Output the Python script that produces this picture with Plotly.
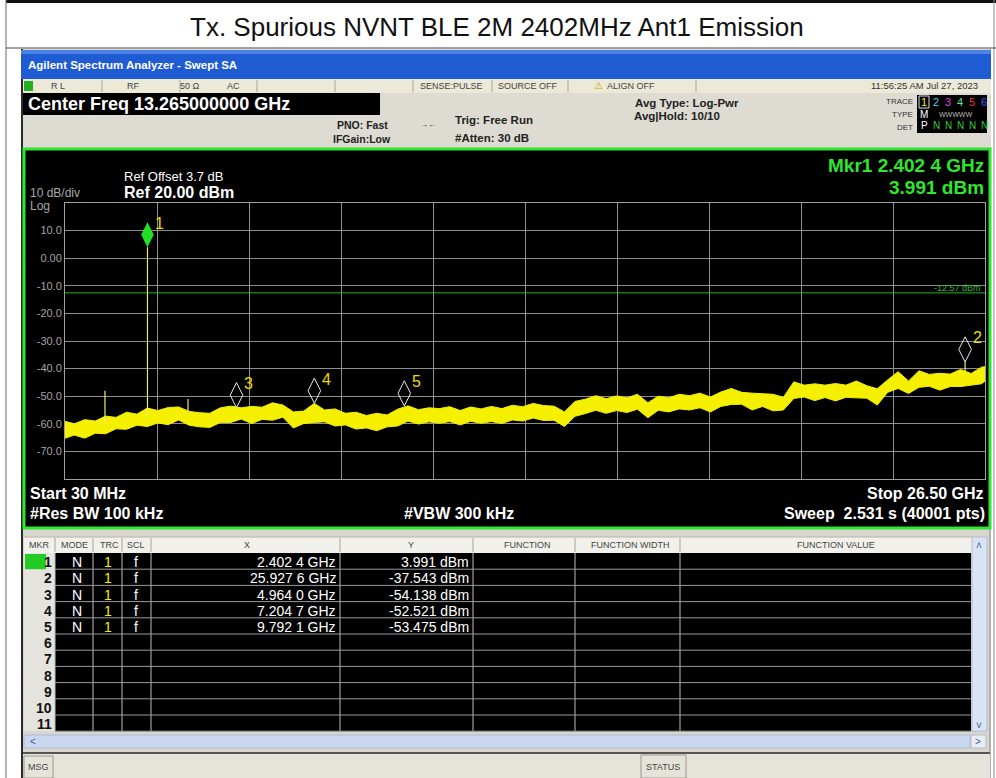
import plotly.graph_objects as go

# ---------------- data ----------------
title_text = "Tx. Spurious NVNT BLE 2M 2402MHz Ant1 Emission"
start_ghz = 0.03
stop_ghz = 26.5
ref_level_dbm = 20.0
scale_db_div = 10.0
limit_dbm = -12.57

freq_ghz = [0.03, 0.3, 0.6, 0.9, 1.2, 1.5, 1.8, 2.1, 2.4, 2.7,
            3.0, 3.3, 3.6, 3.9, 4.2, 4.5, 4.8, 5.1, 5.4, 5.7,
            6.0, 6.3, 6.6, 6.9, 7.2, 7.5, 7.8, 8.1, 8.4, 8.7,
            9.0, 9.3, 9.6, 9.9, 10.2, 10.5, 10.8, 11.1, 11.4, 11.7,
            12.0, 12.3, 12.6, 12.9, 13.2, 13.5, 13.8, 14.1, 14.4, 14.7,
            15.0, 15.3, 15.6, 15.9, 16.2, 16.5, 16.8, 17.1, 17.4, 17.7,
            18.0, 18.3, 18.6, 18.9, 19.2, 19.5, 19.8, 20.1, 20.4, 20.7,
            21.0, 21.3, 21.6, 21.9, 22.2, 22.5, 22.8, 23.1, 23.4, 23.7,
            24.0, 24.3, 24.6, 24.9, 25.2, 25.5, 25.8, 26.1, 26.4, 26.5]

trace_upper_dbm = [-59.1, -60.0, -58.5, -59.0, -57.2, -57.7, -55.8, -56.5, -54.3, -55.2,
                   -54.1, -53.9, -55.5, -56.0, -56.2, -54.2, -53.6, -54.2, -53.7, -54.0,
                   -52.4, -53.2, -55.7, -55.4, -52.6, -55.0, -54.6, -56.2, -55.8, -57.0,
                   -56.2, -56.8, -54.7, -53.5, -54.9, -54.2, -54.5, -53.8, -55.2, -53.9,
                   -54.6, -53.7, -54.5, -53.3, -53.8, -52.6, -53.4, -53.6, -55.7, -51.9,
                   -51.1, -49.8, -50.9, -49.9, -50.6, -49.3, -52.4, -50.0, -50.6, -49.3,
                   -49.8, -48.9, -50.3, -48.5, -47.2, -48.6, -48.9, -49.2, -49.3, -50.4,
                   -44.8, -46.0, -45.5, -46.0, -45.4, -46.0, -44.5, -46.2, -47.3, -44.1,
                   -41.1, -44.5, -40.8, -42.1, -41.7, -42.0, -40.3, -41.8, -39.5, -39.3]

trace_lower_dbm = [-65.2, -64.1, -65.2, -63.4, -63.6, -61.8, -62.0, -60.5, -61.0, -59.7,
                   -60.3, -58.6, -60.5, -61.1, -61.3, -59.5, -59.5, -58.3, -59.9, -58.4,
                   -58.7, -57.6, -61.5, -59.9, -59.5, -59.3, -60.8, -60.4, -61.9, -61.5,
                   -62.5, -61.1, -60.8, -59.0, -60.1, -59.3, -59.8, -59.2, -60.4, -59.1,
                   -59.8, -59.2, -59.9, -58.6, -59.0, -57.9, -58.8, -58.7, -61.0, -57.3,
                   -56.3, -55.1, -56.2, -55.2, -55.9, -54.7, -57.8, -55.1, -55.7, -54.6,
                   -55.0, -54.2, -55.7, -53.7, -53.0, -52.9, -55.0, -53.7, -55.3, -55.0,
                   -50.8, -50.3, -51.6, -50.5, -51.7, -50.4, -50.6, -50.7, -53.2, -48.6,
                   -47.2, -49.0, -46.8, -46.4, -47.8, -46.5, -46.5, -46.1, -45.5, -44.5]

spike_freq_ghz = [1.18, 2.4024, 3.57, 25.9276]
spike_top_dbm = [-48.0, 3.991, -51.0, -37.543]
spike_base_dbm = [-60.0, -57.5, -56.5, -41.0]

marker_ids = [1, 2, 3, 4, 5]
marker_freq_ghz = [2.4024, 25.9276, 4.9640, 7.2047, 9.7921]
marker_level_dbm = [3.991, -37.543, -54.138, -52.521, -53.475]
marker_mode = ["N", "N", "N", "N", "N"]
marker_trace = ["1", "1", "1", "1", "1"]
marker_scale = ["f", "f", "f", "f", "f"]

y_tick_values = [10, 0, -10, -20, -30, -40, -50, -60, -70]
y_tick_labels = ["10.0", "0.00", "-10.0", "-20.0", "-30.0", "-40.0", "-50.0", "-60.0", "-70.0"]
table_row_count = 11

# ---------------- helpers for the instrument chrome ----------------
W, H = 996, 778
FONT = "Liberation Sans"
shapes, annots = [], []


def X(px):
    return px / W


def Y(py):
    return 1 - py / H


def rect(x0, y0, x1, y1, fill, line_color=None, lw=0, layer="below"):
    shapes.append(dict(type="rect", xref="paper", yref="paper",
                       x0=X(x0), x1=X(x1), y0=Y(y1), y1=Y(y0),
                       fillcolor=fill, layer=layer,
                       line=dict(color=line_color or fill, width=lw)))


def hline(x0, x1, y, color, w=1, layer="below"):
    shapes.append(dict(type="line", xref="paper", yref="paper",
                       x0=X(x0), x1=X(x1), y0=Y(y), y1=Y(y), layer=layer,
                       line=dict(color=color, width=w)))


def vline(x, y0, y1, color, w=1, layer="below"):
    shapes.append(dict(type="line", xref="paper", yref="paper",
                       x0=X(x), x1=X(x), y0=Y(y0), y1=Y(y1), layer=layer,
                       line=dict(color=color, width=w)))


def txt(x, y, s, size=12, color="#000", anchor="left", bold=False, family=FONT):
    annots.append(dict(xref="paper", yref="paper", x=X(x), y=Y(y),
                       text=f"<b>{s}</b>" if bold else s, showarrow=False,
                       xanchor=anchor, yanchor="middle", borderpad=0,
                       font=dict(size=size, color=color, family=family)))


def fmt_ghz(f):
    s = f"{f:.4f}"
    return s[:-1] + " " + s[-1]


# ---------------- page frame & title ----------------
rect(6, 0, 996, 3, "#111111")
vline(6, 0, 778, "#666666")
vline(994, 0, 778, "#888888")
hline(6, 996, 48, "#444444")
txt(497, 27, title_text, 26, "#111111", "center")

# ---------------- analyzer window ----------------
rect(21, 49, 991, 778, "#d9d6cd")
vline(22, 49, 778, "#2a2a2a", 2)
vline(990, 49, 778, "#8a8a8a", 1)
rect(21, 50, 991, 79, "#1f5cd4")
rect(21, 50, 991, 54, "#4a82e6")
txt(27, 65, "Agilent Spectrum Analyzer - Swept SA", 11.5, "white", bold=True)

# status row
rect(23, 79, 991, 93, "#ece9d8")
for sx in [102, 180, 257, 335, 413, 492, 568, 696]:
    vline(sx, 80, 92, "#aaa69a")
rect(24, 81, 33, 91, "#22b022")
txt(50, 86, "R L", 9, "#444")
txt(133, 86, "RF", 9, "#444", "center")
txt(190, 86, "50 Ω", 9, "#444", "center")
txt(233, 86, "AC", 9, "#444", "center")
txt(451, 86, "SENSE:PULSE", 9, "#444", "center")
txt(528, 86, "SOURCE OFF", 9, "#444", "center")
txt(598, 86, "⚠", 10, "#d8a800", "center")
txt(606, 86, "ALIGN OFF", 9, "#444")
txt(979, 86, "11:56:25 AM Jul 27, 2023", 9.5, "#333", "right")

# header block
rect(23, 93, 991, 148, "#dedbd2")
rect(23, 93, 380, 115, "#000000")
txt(27, 104, f"Center Freq {(start_ghz + stop_ghz) / 2:.9f} GHz", 18, "white", bold=True)
txt(362, 125, "PNO: Fast", 10.5, "#222", "center", bold=True)
txt(362, 139, "IFGain:Low", 10.5, "#222", "center", bold=True)
txt(428, 124, "→←", 8, "#333", "center")
txt(454, 120, "Trig: Free Run", 11.5, "#222", bold=True)
txt(454, 138, "#Atten: 30 dB", 11.5, "#222", bold=True)
txt(634, 103, "Avg Type: Log-Pwr", 11.5, "#222", bold=True)
txt(633, 116, "Avg|Hold: 10/10", 11.5, "#222", bold=True)
txt(914, 102, "TRACE", 8, "#333", "right")
txt(914, 114, "TYPE", 8, "#333", "right")
txt(914, 127, "DET", 8, "#333", "right")
rect(917, 95, 987, 133, "#000000")
rect(919, 96, 929, 108, "#000000", "#e0e0e0", 1, "above")
trace_colors = ["#f0f000", "#40d0e0", "#e040e0", "#60e0a0", "#f03030", "#4060f0"]
for i, c in enumerate(trace_colors):
    txt(924 + 12 * i, 102, str(i + 1), 11, c, "center")
txt(924, 114, "M", 10, "white", "center")
txt(955, 114, "WWWWW", 7, "#bbbbbb", "center")
txt(924, 126, "P", 10, "white", "center")
for i in range(5):
    txt(936 + 12 * i, 126, "N", 10, "#30d030", "center")

# graph frame
rect(24, 149, 990, 528, "#000000", "#2ee62e", 3)
txt(123, 176, "Ref Offset 3.7 dB", 13, "white")
txt(123, 193, f"Ref {ref_level_dbm:.2f} dBm", 16, "white", bold=True)
txt(29, 193, f"{scale_db_div:g} dB/div", 12, "#a8a8a8")
txt(29, 206, "Log", 12, "#a8a8a8")
txt(985, 165, f"Mkr{marker_ids[0]} {fmt_ghz(marker_freq_ghz[0])} GHz", 19, "#2ee62e", "right", bold=True)
txt(985, 187, f"{marker_level_dbm[0]:.3f} dBm", 19, "#2ee62e", "right", bold=True)
txt(982, 288, f"{limit_dbm:.2f} dBm", 9, "#2eb82e", "right")
txt(29, 493, f"Start {start_ghz * 1000:.0f} MHz", 16, "white", bold=True)
txt(29, 513, "#Res BW 100 kHz", 16, "white", bold=True)
txt(459, 513, "#VBW 300 kHz", 16, "white", "center", bold=True)
txt(984, 493, f"Stop {stop_ghz:.2f} GHz", 16, "white", "right", bold=True)
txt(986, 513, "Sweep  2.531 s (40001 pts)", 16, "white", "right", bold=True)

# ---------------- marker table ----------------
row_h = 16.2
tbl_top = 553
tbl_bot = tbl_top + row_h * table_row_count
rect(24, 537, 972, 553, "#f1f0ea")
hline(24, 972, 537, "#b8b4a8")
rect(24, tbl_top, 55, tbl_bot, "#e4e3de")
rect(55, tbl_top, 971, tbl_bot, "#000000")
col_lines = [55, 93, 122, 151, 340, 473, 575, 680]
for cx in col_lines:
    vline(cx, 538, 552, "#a8a49a")
    vline(cx, tbl_top, tbl_bot, "#bdbdbd")
for k in range(1, table_row_count + 1):
    hline(55, 971, tbl_top + row_h * k, "#9a9a9a")
hdr = [(39, "MKR"), (74, "MODE"), (109, "TRC"), (136, "SCL"), (247, "X"), (411, "Y"),
       (527, "FUNCTION"), (630, "FUNCTION WIDTH"), (836, "FUNCTION VALUE")]
for hx, ht in hdr:
    txt(hx, 545, ht, 9, "#444", "center")
rect(25, tbl_top + 1, 46, tbl_top + row_h, "#22cc22")
for k in range(table_row_count):
    cy = tbl_top + 1 + row_h * (k + 0.5)
    txt(53, cy, str(k + 1), 14, "#111", "right", bold=True)
for k in range(len(marker_ids)):
    cy = tbl_top + 1 + row_h * (k + 0.5)
    txt(77, cy, marker_mode[k], 14, "white", "center")
    txt(108, cy, marker_trace[k], 14, "#f0f000", "center")
    txt(136, cy, marker_scale[k], 14, "white", "center")
    txt(337, cy, f"{fmt_ghz(marker_freq_ghz[k])} GHz", 14, "white", "right")
    txt(470, cy, f"{marker_level_dbm[k]:.3f} dBm", 14, "white", "right")

# scrollbars and message bar
rect(972, 537, 987, tbl_bot, "#d8e3f4", "#b0bcd0", 1)
txt(979, 545, "˄", 10, "#3a5a9a", "center")
txt(979, 725, "˅", 10, "#3a5a9a", "center")
rect(24, 735, 970, 748, "#c9d8f0", "#b0bcd0", 1)
txt(33, 741, "<", 10, "#3a5a9a", "center")
rect(971, 735, 986, 748, "#e8edf5", "#b0bcd0", 1)
txt(978, 741, ">", 10, "#3a5a9a", "center")
hline(23, 990, 753, "#555555", 2)
rect(23, 754, 990, 778, "#e6e3da")
rect(24, 756, 53, 778, "#e6e3da", "#9c9890", 1)
txt(38, 767, "MSG", 9, "#444", "center")
rect(641, 755, 686, 778, "#e6e3da", "#9c9890", 1)
txt(663, 767, "STATUS", 9, "#444", "center")

# ---------------- traces (through the axes) ----------------
YEL = "#f4f000"
fig = go.Figure()
fig.add_trace(go.Scatter(x=[start_ghz, stop_ghz], y=[limit_dbm, limit_dbm], mode="lines",
                         line=dict(color="#22b422", width=1), hoverinfo="skip"))
fig.add_trace(go.Scatter(x=freq_ghz, y=trace_lower_dbm, mode="lines",
                         line=dict(color=YEL, width=1), hoverinfo="skip"))
fig.add_trace(go.Scatter(x=freq_ghz, y=trace_upper_dbm, mode="lines", fill="tonexty",
                         fillcolor=YEL, line=dict(color=YEL, width=1), hoverinfo="skip"))
sx, sy = [], []
for f, b, t in zip(spike_freq_ghz, spike_base_dbm, spike_top_dbm):
    sx += [f, f, None]
    sy += [b, t, None]
fig.add_trace(go.Scatter(x=sx, y=sy, mode="lines", line=dict(color="#eeea70", width=1.2),
                         hoverinfo="skip"))

diamond_offset_db = 4.5
fig.add_trace(go.Scatter(x=marker_freq_ghz[1:], y=[v + diamond_offset_db for v in marker_level_dbm[1:]],
                         mode="markers", hoverinfo="skip",
                         marker=dict(symbol="diamond-tall-open", size=18, color="#e8e8e8",
                                     line=dict(width=1))))
fig.add_trace(go.Scatter(x=marker_freq_ghz[:1], y=[v + diamond_offset_db for v in marker_level_dbm[:1]],
                         mode="markers", hoverinfo="skip",
                         marker=dict(symbol="diamond-tall", size=18, color="#22e022",
                                     line=dict(width=0))))
for mid, f, v in zip(marker_ids, marker_freq_ghz, marker_level_dbm):
    annots.append(dict(x=f, y=v, xref="x", yref="y", text=str(mid), showarrow=False,
                       xshift=12, yshift=24, font=dict(size=16, color="#ecdc00", family=FONT)))

grid_x = [start_ghz + i * (stop_ghz - start_ghz) / 10 for i in range(11)]
y_lo = ref_level_dbm - 10 * scale_db_div

fig.update_layout(
    width=W, height=H, autosize=False, showlegend=False,
    margin=dict(l=0, r=0, t=0, b=0, pad=0),
    paper_bgcolor="white", plot_bgcolor="black",
    shapes=shapes, annotations=annots,
    xaxis=dict(domain=[X(65), X(985)], range=[start_ghz, stop_ghz], tickvals=grid_x,
               showticklabels=False, ticks="", showgrid=True, gridcolor="#8e8e8e", gridwidth=1,
               zeroline=False, showline=True, linecolor="#a0a0a0", linewidth=1, mirror=True,
               fixedrange=True),
    yaxis=dict(domain=[Y(479), Y(203)], range=[y_lo, ref_level_dbm],
               tickvals=[ref_level_dbm] + y_tick_values + [y_lo],
               ticktext=[""] + y_tick_labels + [""],
               ticks="", showgrid=True, gridcolor="#8e8e8e", gridwidth=1, zeroline=False,
               showline=True, linecolor="#a0a0a0", linewidth=1, mirror=True,
               tickfont=dict(size=11, color="#a4a4a4", family=FONT), fixedrange=True),
)

fig.write_html(
    "out.html",
    config={"displayModeBar": False},
    post_script="document.body.style.margin='0';document.body.style.overflow='hidden';",
)
